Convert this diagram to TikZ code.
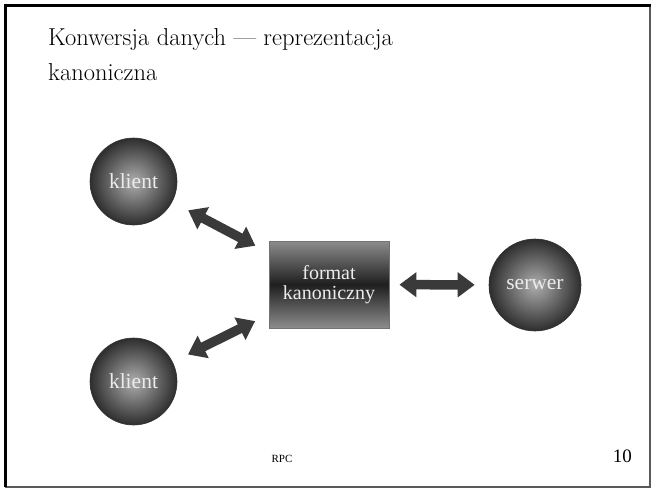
\documentclass[tikz,border=0pt]{standalone}
\usepackage{fontspec}
\newfontfamily\lib{Liberation Serif}
\usetikzlibrary{arrows.meta}
\definecolor{arrowgray}{HTML}{3A3A3A}
\definecolor{spheretxt}{HTML}{ECECEC}
\tikzset{
  sphere/.style={circle, minimum size=87pt, inner sep=0pt, draw=black!80, line width=0.6pt,
    inner color=black!32, outer color=black!82, text=spheretxt, font=\lib\fontsize{21.5}{24}\selectfont},
  canon/.style={rectangle, minimum width=120pt, minimum height=87pt, inner sep=0pt, draw=black!55, line width=0.8pt,
    top color=black!45, bottom color=black!45, middle color=black!88, text=spheretxt,
    align=center, font=\lib\fontsize{20}{19.5}\selectfont},
  blockarrow/.style={draw=arrowgray, line width=9.5pt, {Triangle[length=17pt,width=24pt]}-{Triangle[length=17pt,width=24pt]}},
  title/.style={anchor=base west, inner sep=0pt, font=\fontsize{24.5}{35}\selectfont},
  foot/.style={inner sep=0pt, font=\lib}
}
\begin{document}
\begin{tikzpicture}[x=1pt,y=-1pt]
\useasboundingbox (0,0) rectangle (653,490);
\fill[white] (0,0) rectangle (653,490);
% frame
\draw[black!65, line width=2pt] (650,5) -- (650,487) -- (5,487);
\draw[black, line width=3pt] (5.5,487) -- (5.5,5.5) -- (651,5.5);
% title
\node[title] (t1) at (48,45) {Konwersja danych — reprezentacja};
\node[title] (t2) at (48,80) {kanoniczna};
% nodes
\node[sphere] (k1) at (133.5,181.5) {klient};
\node[sphere] (k2) at (133.5,381.5) {klient};
\node[sphere, minimum size=92pt] (s) at (535,285) {serwer};
\node[canon] (f) at (329,284.5) {format\\kanoniczny};
% arrows
\draw[blockarrow, shorten <=18pt, shorten >=15pt] (k1) -- (f);
\draw[blockarrow, shorten <=15pt, shorten >=17pt] (f) -- (k2);
\draw[blockarrow, shorten <=10pt, shorten >=14pt] (f) -- (s);
% footer
\node[foot, anchor=base, font=\lib\fontsize{11}{13}\selectfont] (rpc) at (282,462) {RPC};
\node[foot, anchor=base east, font=\lib\fontsize{19}{22}\selectfont] (num) at (632,462) {10};
\end{tikzpicture}
\end{document}
